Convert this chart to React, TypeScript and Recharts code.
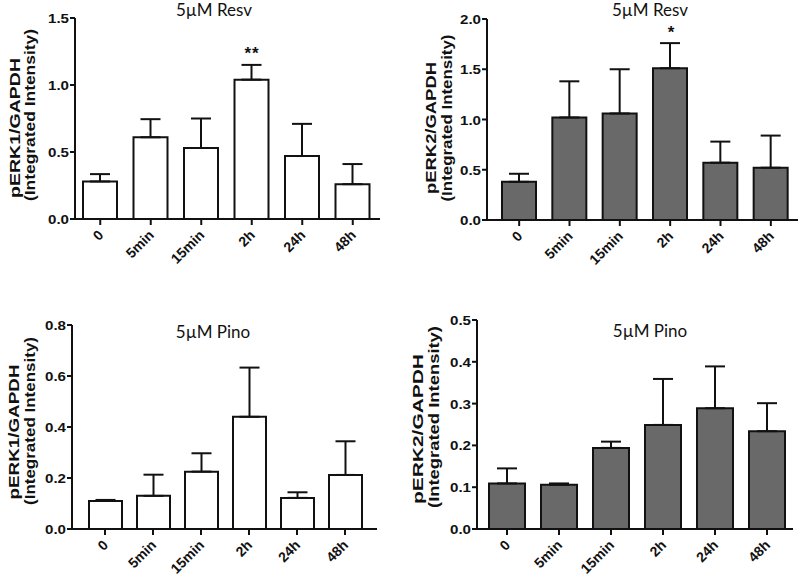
import React from "react";
import { BarChart, Bar, XAxis, YAxis, ErrorBar } from "recharts";

// time points after treatment
const timepoints = ["0", "5min", "15min", "2h", "24h", "48h"];

// 5µM resveratrol
const erk1ResvMean = [0.28, 0.61, 0.53, 1.04, 0.47, 0.26];
const erk1ResvSem = [0.055, 0.135, 0.22, 0.11, 0.24, 0.15];
const erk2ResvMean = [0.38, 1.02, 1.06, 1.51, 0.57, 0.52];
const erk2ResvSem = [0.08, 0.36, 0.44, 0.25, 0.21, 0.32];

// 5µM pinostilbene
const erk1PinoMean = [0.11, 0.13, 0.225, 0.44, 0.122, 0.212];
const erk1PinoSem = [0.004, 0.083, 0.072, 0.193, 0.022, 0.132];
const erk2PinoMean = [0.109, 0.106, 0.194, 0.249, 0.289, 0.234];
const erk2PinoSem = [0.036, 0.003, 0.015, 0.11, 0.1, 0.067];

const ticksResv1 = [0, 0.5, 1, 1.5];
const ticksResv2 = [0, 0.5, 1, 1.5, 2];
const ticksPino1 = [0, 0.2, 0.4, 0.6, 0.8];
const ticksPino2 = [0, 0.1, 0.2, 0.3, 0.4, 0.5];

const ink = "#111";
const sans = "'Liberation Sans', Arial, sans-serif";
const titleFont = "Lato, 'Open Sans', sans-serif";

function rows(mean: number[], sem: number[]) {
  // only the upper half of the error bar is drawn
  return timepoints.map((t, i) => ({ t, v: mean[i], err: [0, sem[i]] }));
}

function XTick({ x, y, payload }: any) {
  const ax = x + 4;
  const ay = y + 9;
  return (
    <text x={ax} y={ay} transform={`rotate(-45 ${ax} ${ay})`} textAnchor="end"
      fontFamily={sans} fontWeight="bold" fontSize={14} fill={ink}>
      {payload.value}
    </text>
  );
}

function YTick({ x, y, payload }: any) {
  return (
    <text x={x} y={y} dy={5} textAnchor="end" fontFamily={sans} fontWeight="bold" fontSize={13.5}
      textLength={21} lengthAdjust="spacingAndGlyphs" fill={ink}>
      {Number(payload.value).toFixed(1)}
    </text>
  );
}

type PanelProps = {
  x: number;
  y: number;
  box: [number, number, number, number]; // plot rect l, t, r, b (page px)
  data: any[];
  fill: string;
  ticks: number[];
  pad: { left: number; right: number };
  barSize: number;
};

function Panel({ x, y, box, data, fill, ticks, pad, barSize }: PanelProps) {
  const W = 400;
  const H = 288;
  const [l, t, r, b] = box;
  const margin = { top: t - y, left: l - x - 60, right: x + W - r, bottom: y + H - b - 40 };
  return (
    <div style={{ position: "absolute", left: x, top: y }}>
      <BarChart width={W} height={H} data={data} margin={margin} barSize={barSize}>
        <XAxis dataKey="t" height={40} padding={pad} interval={0}
          axisLine={{ stroke: ink, strokeWidth: 2 }} tickLine={{ stroke: ink, strokeWidth: 2 }}
          tickSize={6} tick={(p: any) => <XTick {...p} />} />
        <YAxis width={60} domain={[0, ticks[ticks.length - 1]]} ticks={ticks} interval={0}
          axisLine={{ stroke: ink, strokeWidth: 2 }} tickLine={{ stroke: ink, strokeWidth: 2 }}
          tickSize={5} tickMargin={1} tick={(p: any) => <YTick {...p} />} />
        <Bar dataKey="v" fill={fill} stroke={ink} strokeWidth={2} isAnimationActive={false}>
          <ErrorBar dataKey="err" direction="y" width={10} stroke={ink} strokeWidth={2} />
        </Bar>
      </BarChart>
    </div>
  );
}

function YLabel({ x1, x2, cy1, cy2, len1, len2, text }: any) {
  const common = { fontFamily: sans, fontWeight: "bold", fontSize: 14, fill: ink, textAnchor: "middle" as const, lengthAdjust: "spacingAndGlyphs" };
  return (
    <g>
      <text {...common} transform={`translate(${x1},${cy1}) rotate(-90)`} textLength={len1}>{text}</text>
      <text {...common} transform={`translate(${x2},${cy2}) rotate(-90)`} textLength={len2}>(Integrated Intensity)</text>
    </g>
  );
}

function Title({ x, y, text }: any) {
  return (
    <text x={x} y={y} textAnchor="middle" fontFamily={titleFont} fontSize={17} fill={ink}>{text}</text>
  );
}

export default function App() {
  return (
    <div style={{ position: "absolute", left: 0, top: 0, width: 800, height: 576, background: "#fff" }}>
      <Panel x={0} y={0} box={[75, 18, 380, 219]} data={rows(erk1ResvMean, erk1ResvSem)} fill="#fff"
        ticks={ticksResv1} pad={{ left: 0, right: 2 }} barSize={34} />
      <Panel x={400} y={0} box={[487, 19, 798, 220]} data={rows(erk2ResvMean, erk2ResvSem)} fill="#696969"
        ticks={ticksResv2} pad={{ left: 7, right: 2 }} barSize={34} />
      <Panel x={0} y={288} box={[72, 325, 377, 529]} data={rows(erk1PinoMean, erk1PinoSem)} fill="#fff"
        ticks={ticksPino1} pad={{ left: 9, right: 8 }} barSize={33} />
      <Panel x={400} y={288} box={[477, 320, 793, 529]} data={rows(erk2PinoMean, erk2PinoSem)} fill="#696969"
        ticks={ticksPino2} pad={{ left: 4, right: 0 }} barSize={36} />

      <svg width={800} height={576} style={{ position: "absolute", left: 0, top: 0, pointerEvents: "none" }}>
        <Title x={214} y={16} text="5µM Resv" />
        <Title x={650} y={16} text="5µM Resv" />
        <Title x={213} y={338} text="5µM Pino" />
        <Title x={650} y={337} text="5µM Pino" />

        <YLabel x1={20} x2={35} cy1={128} cy2={115} len1={140} len2={172} text="pERK1/GAPDH" />
        <YLabel x1={436} x2={452} cy1={128} cy2={118} len1={132} len2={167} text="pERK2/GAPDH" />
        <YLabel x1={19} x2={35} cy1={432} cy2={421} len1={135} len2={168} text="pERK1/GAPDH" />
        <YLabel x1={423} x2={439} cy1={429} cy2={417} len1={150} len2={182} text="pERK2/GAPDH" />

        <text x={252} y={59} textAnchor="middle" fontFamily={sans} fontWeight="bold" fontSize={17} letterSpacing={1} fill={ink}>**</text>
        <text x={671} y={38} textAnchor="middle" fontFamily={sans} fontWeight="bold" fontSize={17} fill={ink}>*</text>
      </svg>
    </div>
  );
}
